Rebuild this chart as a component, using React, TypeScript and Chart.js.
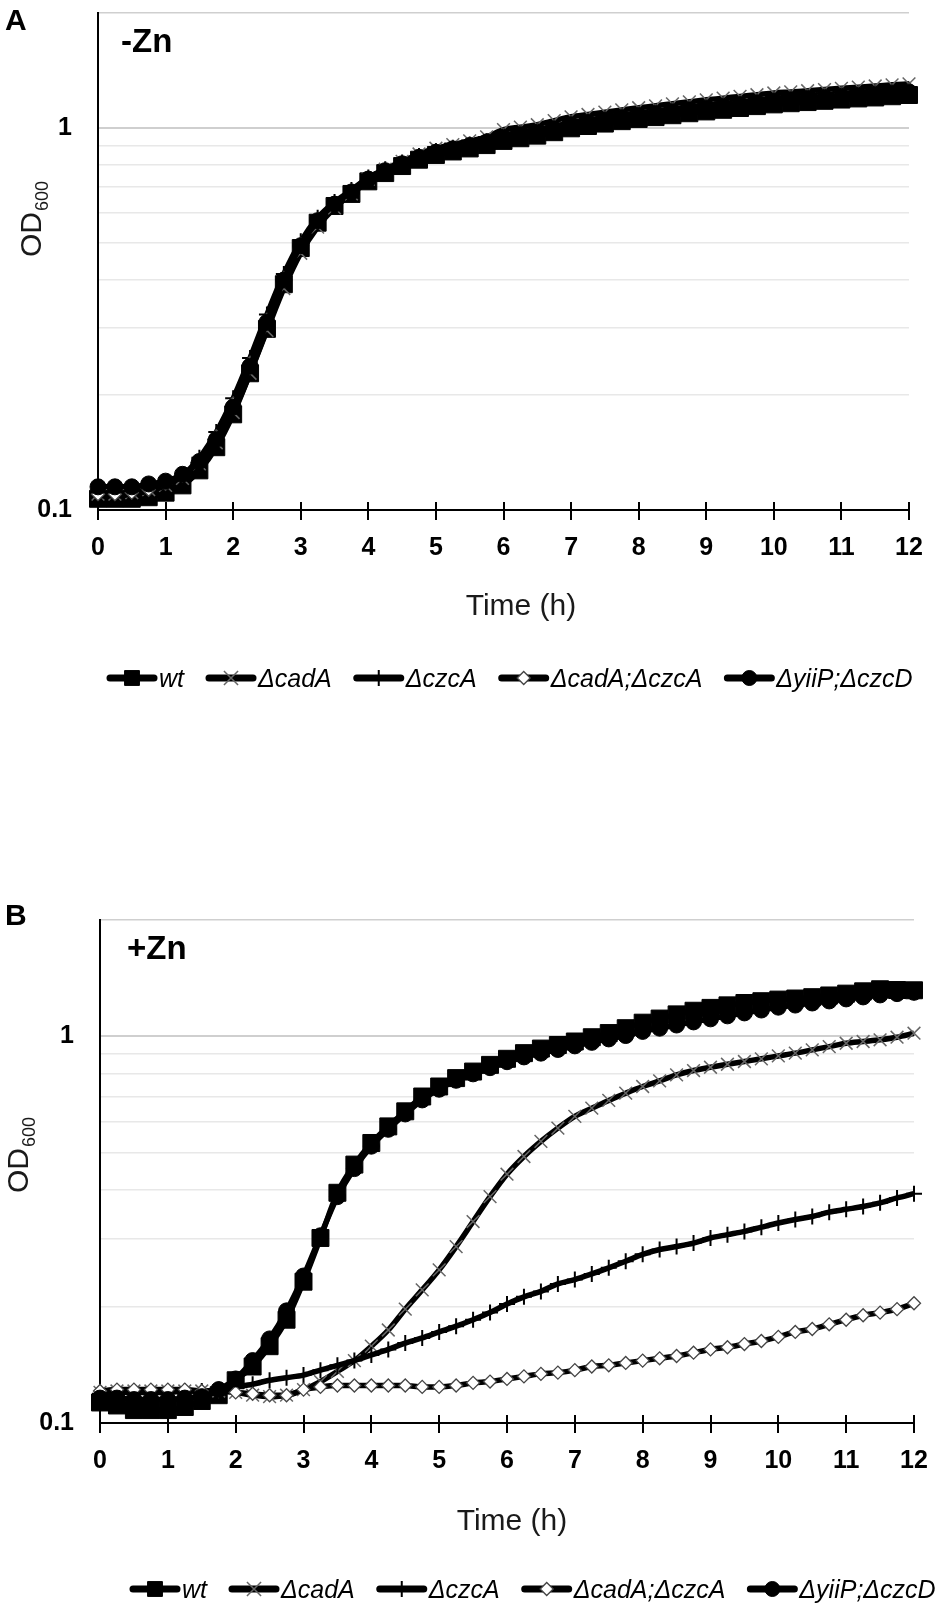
import React, { useEffect, useRef } from "react";
import { Chart, registerables } from "chart.js";
import { drawPoint } from "chart.js/helpers";

Chart.register(...registerables);

// ---------------- data ----------------
const TIME_H = [
  0, 0.25, 0.5, 0.75, 1, 1.25, 1.5, 1.75, 2, 2.25, 2.5, 2.75,
  3, 3.25, 3.5, 3.75, 4, 4.25, 4.5, 4.75, 5, 5.25, 5.5, 5.75,
  6, 6.25, 6.5, 6.75, 7, 7.25, 7.5, 7.75, 8, 8.25, 8.5, 8.75,
  9, 9.25, 9.5, 9.75, 10, 10.25, 10.5, 10.75, 11, 11.25, 11.5, 11.75,
  12,
];
const X_TICKS = [0, 1, 2, 3, 4, 5, 6, 7, 8, 9, 10, 11, 12];
const Y_GRID = [0.1, 0.2, 0.3, 0.4, 0.5, 0.6, 0.7, 0.8, 0.9, 1, 2];
const Y_LABELED = [0.1, 1];
const SERIES_NAMES = ["wt", "ΔcadA", "ΔczcA", "ΔcadA;ΔczcA", "ΔyiiP;ΔczcD"];

// Panel A (-Zn)
const A_WT = [
  0.107, 0.107, 0.107, 0.108, 0.111, 0.116, 0.127, 0.146, 0.178, 0.228, 0.298, 0.39,
  0.485, 0.565, 0.625, 0.672, 0.725, 0.762, 0.795, 0.826, 0.85, 0.868, 0.884, 0.902,
  0.925, 0.94, 0.955, 0.975, 0.998, 1.012, 1.027, 1.042, 1.056, 1.068, 1.08, 1.093,
  1.105, 1.116, 1.128, 1.141, 1.153, 1.161, 1.169, 1.178, 1.187, 1.195, 1.202, 1.211,
  1.22,
];
const A_CADA = [
  0.11, 0.11, 0.111, 0.113, 0.116, 0.121, 0.132, 0.15, 0.18, 0.228, 0.295, 0.38,
  0.47, 0.55, 0.618, 0.672, 0.735, 0.78, 0.818, 0.855, 0.885, 0.905, 0.925, 0.948,
  0.99, 1.005, 1.02, 1.045, 1.07, 1.085, 1.1, 1.115, 1.13, 1.143, 1.157, 1.171,
  1.185, 1.197, 1.21, 1.222, 1.235, 1.243, 1.252, 1.261, 1.27, 1.279, 1.288, 1.297,
  1.305,
];
const A_CZCA = [
  0.109, 0.109, 0.11, 0.112, 0.116, 0.123, 0.137, 0.16, 0.196, 0.25, 0.325, 0.415,
  0.505, 0.582, 0.64, 0.688, 0.742, 0.78, 0.812, 0.845, 0.87, 0.888, 0.905, 0.925,
  0.955, 0.97, 0.985, 1.005, 1.03, 1.045, 1.06, 1.075, 1.09, 1.103, 1.116, 1.129,
  1.142, 1.154, 1.166, 1.178, 1.19, 1.199, 1.208, 1.217, 1.226, 1.234, 1.242, 1.251,
  1.26,
];
const A_CADA_CZCA = [
  0.11, 0.11, 0.111, 0.113, 0.117, 0.123, 0.135, 0.156, 0.19, 0.243, 0.315, 0.405,
  0.497, 0.576, 0.636, 0.685, 0.74, 0.779, 0.812, 0.845, 0.872, 0.89, 0.908, 0.928,
  0.958, 0.974, 0.99, 1.01, 1.035, 1.05, 1.065, 1.08, 1.095, 1.108, 1.121, 1.134,
  1.147, 1.159, 1.171, 1.183, 1.195, 1.204, 1.213, 1.222, 1.231, 1.24, 1.248, 1.257,
  1.266,
];
const A_YIIP = [
  0.115, 0.115, 0.115, 0.117, 0.119, 0.124, 0.134, 0.153, 0.186, 0.238, 0.31, 0.4,
  0.492, 0.572, 0.632, 0.68, 0.735, 0.773, 0.806, 0.838, 0.864, 0.882, 0.9, 0.919,
  0.945, 0.96, 0.975, 0.995, 1.02, 1.034, 1.049, 1.064, 1.078, 1.091, 1.103, 1.116,
  1.128, 1.14, 1.152, 1.164, 1.176, 1.185, 1.194, 1.202, 1.21, 1.218, 1.226, 1.235,
  1.243,
];

// Panel B (+Zn)
const B_WT = [
  0.113, 0.111, 0.108, 0.108, 0.108, 0.11, 0.114, 0.118, 0.129, 0.14, 0.158, 0.185,
  0.232, 0.301, 0.394, 0.466, 0.53, 0.585, 0.64, 0.699, 0.742, 0.78, 0.811, 0.844,
  0.875, 0.905, 0.93, 0.95, 0.97, 0.995, 1.02, 1.05, 1.085, 1.112, 1.14, 1.165,
  1.185, 1.203, 1.22, 1.233, 1.245, 1.253, 1.263, 1.276, 1.29, 1.308, 1.324, 1.318,
  1.316,
];
const B_CADA = [
  0.12, 0.121, 0.121, 0.121, 0.121, 0.121, 0.121, 0.121, 0.12, 0.118, 0.117, 0.118,
  0.122, 0.128, 0.136, 0.145, 0.158, 0.174, 0.197, 0.221, 0.249, 0.286, 0.332, 0.385,
  0.44, 0.489, 0.535, 0.579, 0.621, 0.652, 0.683, 0.713, 0.742, 0.767, 0.795, 0.816,
  0.832, 0.847, 0.861, 0.875, 0.89, 0.905, 0.923, 0.941, 0.96, 0.97, 0.98, 0.995,
  1.019,
];
const B_CZCA = [
  0.119, 0.12, 0.12, 0.12, 0.12, 0.121, 0.121, 0.122, 0.124, 0.126, 0.129, 0.131,
  0.133, 0.137, 0.141, 0.145, 0.15, 0.155, 0.161, 0.166, 0.172, 0.178, 0.185, 0.193,
  0.203, 0.212, 0.219, 0.229, 0.235, 0.243, 0.252, 0.262, 0.273, 0.281, 0.286, 0.292,
  0.301, 0.307, 0.313, 0.321, 0.329, 0.336, 0.342, 0.351, 0.357, 0.363, 0.371, 0.382,
  0.392,
];
const B_CADA_CZCA = [
  0.121, 0.122, 0.122, 0.122, 0.122, 0.122, 0.121, 0.121, 0.12, 0.119, 0.118, 0.118,
  0.122, 0.124, 0.125, 0.125, 0.125, 0.125, 0.125, 0.124, 0.124, 0.125, 0.127, 0.128,
  0.13, 0.132, 0.134, 0.135, 0.137, 0.14, 0.141, 0.143, 0.145, 0.147, 0.149, 0.152,
  0.155, 0.157, 0.16, 0.163, 0.167, 0.172, 0.175, 0.18, 0.185, 0.19, 0.193, 0.197,
  0.204,
];
const B_YIIP = [
  0.116, 0.116, 0.115, 0.115, 0.115, 0.116, 0.117, 0.122, 0.13, 0.145, 0.165, 0.195,
  0.24, 0.305, 0.385, 0.455, 0.52, 0.575, 0.63, 0.685, 0.73, 0.77, 0.8, 0.83,
  0.86, 0.885, 0.905, 0.925, 0.945, 0.965, 0.985, 1.005, 1.03, 1.05, 1.07, 1.09,
  1.11, 1.13, 1.15, 1.17, 1.19, 1.205, 1.22, 1.235, 1.25, 1.265, 1.28, 1.29,
  1.3,
];

// ---------------- styles ----------------
const FONT = '"Liberation Sans", Arial, sans-serif';

const MARKERS = [
  { pointStyle: "rect", radius: 12, fill: "#000", stroke: "#000", bw: 1, legendRadius: 10.5 },
  { pointStyle: "crossRot", radius: 9, fill: "#000", stroke: "#666", bw: 1.5, legendRadius: 10 },
  { pointStyle: "cross", radius: 8, fill: "#000", stroke: "#000", bw: 2, legendRadius: 8 },
  { pointStyle: "rectRot", radius: 6.5, fill: "#fff", stroke: "#444", bw: 1.3, legendRadius: 6.5 },
  { pointStyle: "circle", radius: 8, fill: "#000", stroke: "#000", bw: 1, legendRadius: 7.5 },
];

type PanelCfg = {
  top: number;
  height: number;
  area: { left: number; top: number; right: number; bottom: number };
  series: number[][];
  letter: string;
  letterPos: [number, number];
  cond: string;
  condPos: [number, number];
  yTitlePos: [number, number];
  xTitlePos: [number, number];
  legendPos: [number, number];
};

const PANELS: PanelCfg[] = [
  {
    top: 0,
    height: 720,
    area: { left: 98, top: 10, right: 909, bottom: 510 },
    series: [A_WT, A_CADA, A_CZCA, A_CADA_CZCA, A_YIIP],
    letter: "A",
    letterPos: [5, 30],
    cond: "-Zn",
    condPos: [121, 52],
    yTitlePos: [41, 257],
    xTitlePos: [521, 615],
    legendPos: [107, 678],
  },
  {
    top: 860,
    height: 747,
    area: { left: 100, top: 60, right: 914, bottom: 563 },
    series: [B_WT, B_CADA, B_CZCA, B_CADA_CZCA, B_YIIP],
    letter: "B",
    letterPos: [5, 65],
    cond: "+Zn",
    condPos: [127, 99],
    yTitlePos: [28, 333],
    xTitlePos: [512, 670],
    legendPos: [130, 729],
  },
];

function makeDecor(cfg: PanelCfg) {
  return {
    id: "decor",
    beforeDatasetsDraw(chart: any) {
      const { ctx, chartArea } = chart;
      const x = chart.scales.x;
      ctx.save();
      ctx.strokeStyle = "#000";
      ctx.lineWidth = 2;
      for (const t of X_TICKS) {
        const px = Math.round(x.getPixelForValue(t));
        ctx.beginPath();
        ctx.moveTo(px, chartArea.bottom - 8);
        ctx.lineTo(px, chartArea.bottom + 10);
        ctx.stroke();
      }
      ctx.restore();
    },
    afterDraw(chart: any) {
      const ctx = chart.ctx as CanvasRenderingContext2D;
      ctx.save();
      ctx.fillStyle = "#000";
      ctx.textBaseline = "alphabetic";
      ctx.textAlign = "left";
      // panel letter
      ctx.font = `bold 30px ${FONT}`;
      ctx.fillText(cfg.letter, cfg.letterPos[0], cfg.letterPos[1]);
      // condition
      ctx.font = `bold 33px ${FONT}`;
      ctx.fillText(cfg.cond, cfg.condPos[0], cfg.condPos[1]);
      // x title
      ctx.font = `30px ${FONT}`;
      ctx.textAlign = "center";
      ctx.fillStyle = "#1a1a1a";
      ctx.fillText("Time (h)", cfg.xTitlePos[0], cfg.xTitlePos[1]);
      // y title, rotated, with subscript
      ctx.save();
      ctx.translate(cfg.yTitlePos[0], cfg.yTitlePos[1]);
      ctx.rotate(-Math.PI / 2);
      ctx.textAlign = "left";
      ctx.font = `30px ${FONT}`;
      ctx.fillText("OD", 0, 0);
      const w = ctx.measureText("OD").width;
      ctx.font = `18px ${FONT}`;
      ctx.fillText("600", w + 1, 7);
      ctx.restore();
      // legend
      let lx = cfg.legendPos[0];
      const ly = cfg.legendPos[1];
      ctx.font = `italic 25px ${FONT}`;
      ctx.textAlign = "left";
      SERIES_NAMES.forEach((name, i) => {
        const m = MARKERS[i];
        ctx.strokeStyle = "#000";
        ctx.lineWidth = 7;
        ctx.lineCap = "round";
        ctx.beginPath();
        ctx.moveTo(lx + 3, ly);
        ctx.lineTo(lx + 47, ly);
        ctx.stroke();
        ctx.lineCap = "butt";
        ctx.fillStyle = m.fill;
        ctx.strokeStyle = m.stroke;
        ctx.lineWidth = m.bw;
        drawPoint(ctx, { pointStyle: m.pointStyle as any, rotation: 0, radius: m.legendRadius, borderWidth: m.bw }, lx + 25, ly);
        ctx.fillStyle = "#000";
        ctx.fillText(name, lx + 52, ly + 9);
        lx += 52 + ctx.measureText(name).width + 22;
      });
      ctx.restore();
    },
  };
}

function Panel({ cfg }: { cfg: PanelCfg }) {
  const ref = useRef<HTMLCanvasElement>(null);
  useEffect(() => {
    const canvas = ref.current!;
    const { area } = cfg;
    const order = [5, 4, 3, 2, 1];
    const chart = new Chart(canvas, {
      type: "line",
      data: {
        datasets: cfg.series.map((vals, i) => ({
          label: SERIES_NAMES[i],
          data: TIME_H.map((t, k) => ({ x: t, y: vals[k] })),
          borderColor: "#000",
          borderWidth: 5.5,
          tension: 0.3,
          cubicInterpolationMode: "monotone" as const,
          pointStyle: MARKERS[i].pointStyle as any,
          pointRadius: MARKERS[i].radius,
          pointBackgroundColor: MARKERS[i].fill,
          pointBorderColor: MARKERS[i].stroke,
          pointBorderWidth: MARKERS[i].bw,
          clip: false as any,
          order: order[i],
        })),
      },
      options: {
        animation: false,
        responsive: false,
        maintainAspectRatio: false,
        layout: { padding: { top: area.top, right: 950 - area.right, left: 0, bottom: 0 } },
        plugins: { legend: { display: false }, tooltip: { enabled: false } },
        events: [],
        scales: {
          x: {
            type: "linear",
            min: 0,
            max: 12,
            grid: { display: false, drawTicks: false },
            border: { display: true, color: "#000", width: 2 },
            ticks: {
              autoSkip: false,
              maxRotation: 0,
              padding: 23,
              color: "#000",
              font: { family: FONT, size: 25, weight: "bold" },
              callback: (v: any) => String(v),
            },
            afterBuildTicks: (s: any) => {
              s.ticks = X_TICKS.map((v) => ({ value: v }));
            },
            afterFit: (s: any) => {
              s.height = cfg.height - area.bottom;
              s.paddingLeft = 0;
              s.paddingRight = 0;
            },
          },
          y: {
            type: "logarithmic",
            min: 0.1,
            max: 2,
            grid: {
              drawTicks: false,
              color: (c: any) => (c.tick && (c.tick.value === 1 || c.tick.value === 2) ? "#cfcfcf" : "#e8e8e8"),
              lineWidth: (c: any) => (c.tick && c.tick.value === 1 ? 2 : 1.5),
            },
            border: { display: true, color: "#000", width: 2 },
            ticks: {
              autoSkip: false,
              padding: 26,
              color: "#000",
              font: { family: FONT, size: 25, weight: "bold" },
              callback: (v: any) => (Y_LABELED.includes(Number(v)) ? String(v) : ""),
            },
            afterBuildTicks: (s: any) => {
              s.ticks = Y_GRID.map((v) => ({ value: v }));
            },
            afterFit: (s: any) => {
              s.width = area.left;
              s.paddingTop = 0;
              s.paddingBottom = 0;
            },
          },
        },
      },
      plugins: [makeDecor(cfg)],
    } as any);
    return () => chart.destroy();
  }, [cfg]);
  return (
    <canvas
      ref={ref}
      width={950}
      height={cfg.height}
      style={{ position: "absolute", left: 0, top: cfg.top, width: 950, height: cfg.height }}
    />
  );
}

export default function App() {
  return (
    <div style={{ position: "absolute", left: 0, top: 0, width: 950, height: 1607, background: "#fff" }}>
      {PANELS.map((p, i) => (
        <Panel key={i} cfg={p} />
      ))}
    </div>
  );
}
